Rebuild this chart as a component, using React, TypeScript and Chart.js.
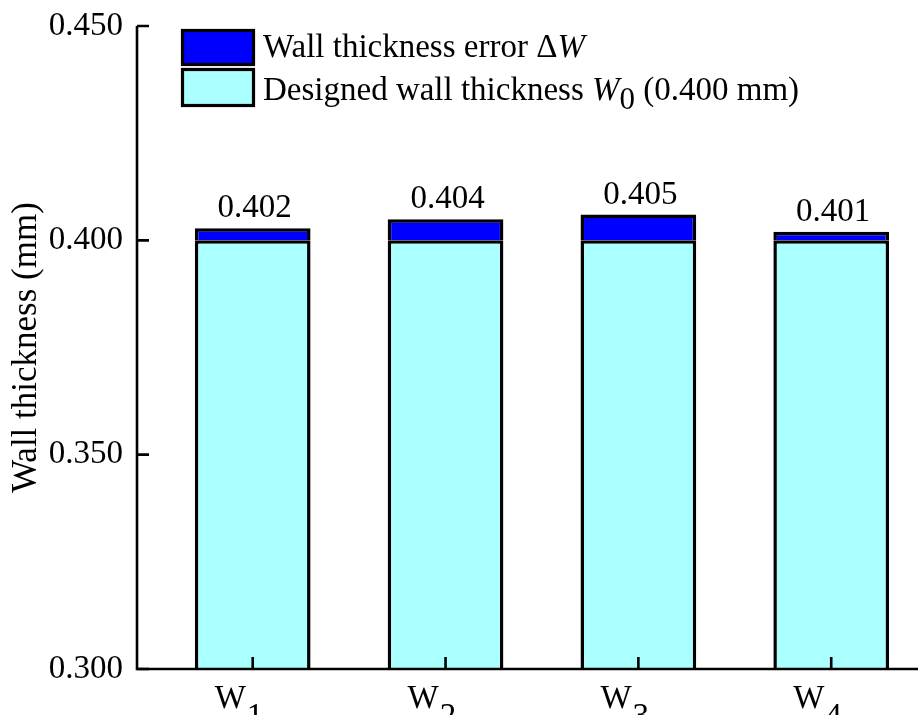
import React, { useEffect, useRef } from "react";
import { Chart, registerables } from "chart.js";

Chart.register(...registerables);

// ---- data ----
const categories = ["W1", "W2", "W3", "W4"];
const designedThickness = [0.4, 0.4, 0.4, 0.4];
const thicknessError = [0.0028, 0.0049, 0.006, 0.002];
const valueLabels = ["0.402", "0.404", "0.405", "0.401"];
const yTicks = [0.3, 0.35, 0.4, 0.45];
const legendError = ["Wall thickness error \u0394", "W"];
const legendDesigned = ["Designed wall thickness ", "W", "0", " (0.400 mm)"];
const yTitle = "Wall thickness (mm)";

const FAMILY = "'Liberation Serif', 'Times New Roman', serif";
const FS = 33;
const fontStr = (size: number, italic = false) =>
  `${italic ? "italic " : ""}${size}px ${FAMILY}`;

const decorPlugin = {
  id: "decor",
  afterDatasetsDraw(chart: any) {
    const ctx = chart.ctx as CanvasRenderingContext2D;
    const { left, bottom } = chart.chartArea;
    const xs = chart.scales.x;
    const ys = chart.scales.y;
    ctx.save();
    ctx.strokeStyle = "#000";
    ctx.fillStyle = "#000";
    ctx.lineWidth = 2.6;
    ctx.lineJoin = "miter";
    // axes
    const topY = ys.getPixelForValue(yTicks[yTicks.length - 1]);
    ctx.beginPath();
    ctx.moveTo(left, topY);
    ctx.lineTo(left, bottom);
    ctx.lineTo(chart.width, bottom);
    ctx.stroke();
    // inward ticks
    ctx.beginPath();
    yTicks.forEach((v) => {
      const py = ys.getPixelForValue(v);
      ctx.moveTo(left, py);
      ctx.lineTo(left + 12, py);
    });
    categories.forEach((_, i) => {
      const px = xs.getPixelForValue(i + 1);
      ctx.moveTo(px, bottom);
      ctx.lineTo(px, bottom - 12);
    });
    ctx.stroke();

    // x labels with subscripts
    ctx.textBaseline = "alphabetic";
    ctx.textAlign = "left";
    categories.forEach((c, i) => {
      const px = xs.getPixelForValue(i + 1);
      const main = c.slice(0, 1);
      const sub = c.slice(1);
      ctx.font = fontStr(FS);
      const x0 = px - 38;
      ctx.fillText(main, x0, bottom + 39);
      const w = ctx.measureText(main).width;
      ctx.fillText(sub, x0 + w + 1, bottom + 57);
    });

    // value labels
    const meta = chart.getDatasetMeta(1);
    ctx.textAlign = "center";
    ctx.font = fontStr(FS);
    meta.data.forEach((bar: any, i: number) => {
      ctx.fillText(valueLabels[i], bar.x + 2, bar.y - 11);
    });

    // legend
    const ds = chart.data.datasets;
    ctx.lineWidth = 3.2;
    const boxes = [
      { y: 30.5, h: 34, color: ds[1].backgroundColor },
      { y: 69.5, h: 36, color: ds[0].backgroundColor },
    ];
    boxes.forEach((b) => {
      ctx.fillStyle = b.color;
      ctx.fillRect(182.5, b.y, 71, b.h);
      ctx.strokeRect(182.5, b.y, 71, b.h);
    });
    ctx.fillStyle = "#000";
    ctx.textAlign = "left";
    let tx = 263;
    ctx.font = fontStr(FS);
    ctx.fillText(legendError[0], tx, 57);
    tx += ctx.measureText(legendError[0]).width;
    ctx.font = fontStr(FS, true);
    ctx.fillText(legendError[1], tx, 57);

    tx = 263;
    ctx.font = fontStr(FS);
    ctx.fillText(legendDesigned[0], tx, 100);
    tx += ctx.measureText(legendDesigned[0]).width;
    ctx.font = fontStr(FS, true);
    ctx.fillText(legendDesigned[1], tx, 100);
    tx += ctx.measureText(legendDesigned[1]).width;
    ctx.font = fontStr(31);
    ctx.fillText(legendDesigned[2], tx, 109);
    tx += ctx.measureText(legendDesigned[2]).width;
    ctx.font = fontStr(FS);
    ctx.fillText(legendDesigned[3], tx, 100);
    ctx.restore();
  },
};

export default function App() {
  const ref = useRef<HTMLCanvasElement | null>(null);
  useEffect(() => {
    document.body.style.margin = "0";
    if (!ref.current) return;
    const chart = new Chart(ref.current, {
      type: "bar",
      data: {
        datasets: [
          {
            label: "Designed wall thickness W0 (0.400 mm)",
            data: designedThickness.map((v, i) => ({ x: i + 1, y: v })),
            backgroundColor: "#AAFFFF",
            borderColor: "#000",
            borderWidth: 3.5,
            borderSkipped: "bottom",
            barPercentage: 0.6,
            categoryPercentage: 1,
            clip: 0,
          },
          {
            label: "Wall thickness error ΔW",
            data: thicknessError.map((v, i) => ({ x: i + 1, y: v })),
            backgroundColor: "#0000FF",
            borderColor: "#000",
            borderWidth: 3.5,
            borderSkipped: "bottom",
            barPercentage: 0.6,
            categoryPercentage: 1,
            clip: 0,
          },
        ],
      } as any,
      options: {
        animation: false,
        responsive: false,
        devicePixelRatio: 1,
        layout: { padding: { top: 26, left: 0, right: 0, bottom: 0 } },
        plugins: { legend: { display: false }, tooltip: { enabled: false } },
        scales: {
          x: {
            type: "linear",
            stacked: true,
            offset: false,
            min: 0.4,
            max: 4.45,
            grid: { display: false, offset: false },
            border: { display: false },
            ticks: { display: false },
            afterBuildTicks: (s: any) => {
              s.ticks = categories.map((_, i) => ({ value: i + 1 }));
            },
            afterFit: (s: any) => {
              s.height = 46;
              s.paddingLeft = 0;
              s.paddingRight = 0;
            },
          },
          y: {
            stacked: true,
            min: 0.3,
            max: 0.45,
            grid: { display: false, drawTicks: false },
            border: { display: false },
            afterBuildTicks: (s: any) => {
              s.ticks = yTicks.map((v) => ({ value: v }));
            },
            ticks: {
              padding: 14,
              color: "#000",
              font: { family: FAMILY, size: FS },
              callback: (v: any) => Number(v).toFixed(3),
            },
            title: {
              display: true,
              text: yTitle,
              color: "#000",
              font: { family: FAMILY, size: 35 },
              padding: { top: 6, bottom: 0 },
            },
            afterFit: (s: any) => {
              s.width = 137;
              s.paddingTop = 0;
              s.paddingBottom = 0;
            },
          },
        },
      } as any,
      plugins: [decorPlugin],
    });
    return () => chart.destroy();
  }, []);
  return (
    <div style={{ width: 918, height: 715 }}>
      <canvas ref={ref} width={918} height={715} />
    </div>
  );
}
